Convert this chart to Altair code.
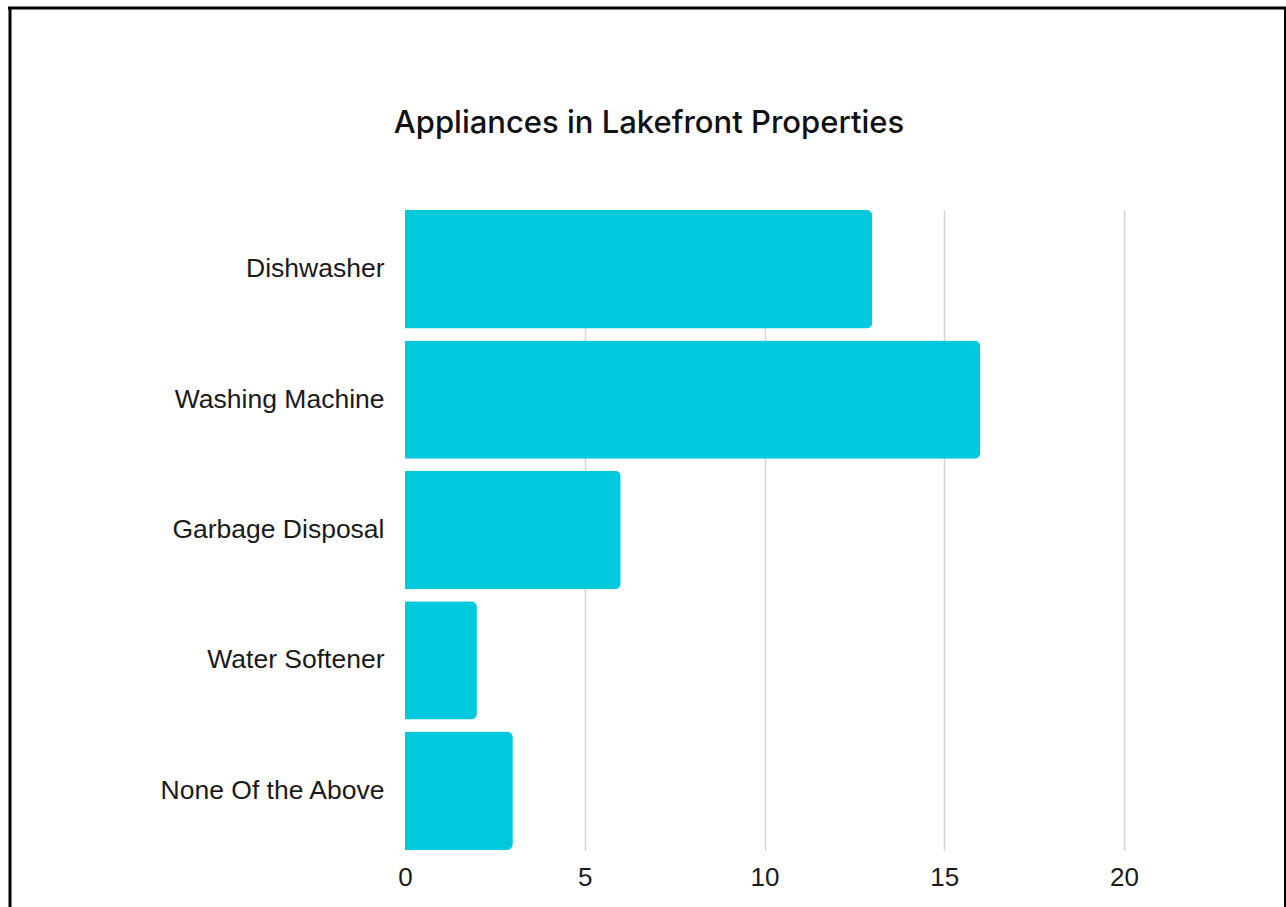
import altair as alt
import pandas as pd

categories = ["Dishwasher", "Washing Machine", "Garbage Disposal", "Water Softener", "None Of the Above"]
counts = [13, 16, 6, 2, 3]
x_ticks = [0, 5, 10, 15, 20]

df = pd.DataFrame({"Appliance": categories, "Count": counts})

bars = alt.Chart(df).mark_bar(color="#00c9dd", cornerRadiusEnd=6).encode(
    y=alt.Y("Appliance:N", sort=categories, title=None,
            scale=alt.Scale(paddingInner=0.092, paddingOuter=0),
            axis=alt.Axis(domain=False, ticks=False, labelFontSize=26.5, labelColor="#1a1a1a",
                          labelFont="Liberation Sans", labelPadding=21, labelLimit=400)),
    x=alt.X("Count:Q", title=None,
            scale=alt.Scale(domain=[0, 20], nice=False),
            axis=alt.Axis(values=x_ticks, domain=False, ticks=False, labelFontSize=26,
                          labelColor="#1a1a1a", labelFont="Liberation Sans", labelPadding=14,
                          labelFlush=False,
                          gridColor=alt.condition("datum.value === 0", alt.value("transparent"), alt.value("#d4d4d4")),
                          gridWidth=1.5)),
)

frame_df = pd.DataFrame({"k": [0]})
left = alt.Chart(frame_df).mark_rule(color="black", strokeWidth=3, clip=False).encode(
    x=alt.value(-395), y=alt.value(-203), y2=alt.value(720))
top = alt.Chart(frame_df).mark_rule(color="black", strokeWidth=3, clip=False).encode(
    x=alt.value(-397), x2=alt.value(885), y=alt.value(-202))
right = alt.Chart(frame_df).mark_rule(color="black", strokeWidth=2, clip=False).encode(
    x=alt.value(880), y=alt.value(-203), y2=alt.value(720))

chart = alt.layer(bars, left, top, right).properties(
    width=719, height=640,
    title=alt.TitleParams("Appliances in Lakefront Properties", font="Inter", fontSize=31,
                          fontWeight=500, color="#111111", anchor="middle", frame="bounds",
                          offset=0, dy=134),
    padding={"left": 405, "top": 210, "right": 162, "bottom": 57},
    autosize="none",
    background="white",
).configure_view(stroke=None)

chart.save("out.html", embed_options={"renderer": "svg", "actions": False})
